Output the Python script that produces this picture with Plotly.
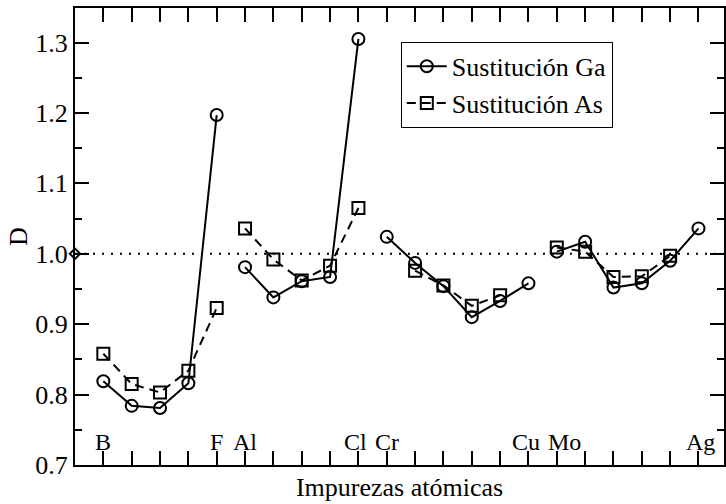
import plotly.graph_objects as go

# Impurity sites along the x axis (index positions) and their labels
element_pos = [1, 5, 6, 10, 11, 16, 17, 22]
element_names = ["B", "F", "Al", "Cl", "Cr", "Cu", "Mo", "Ag"]
# small horizontal nudges (px) so neighbouring labels don't collide
label_nudge = {"Cl": -3, "Cu": -2, "Mo": 8, "Ag": 2}

# Ga-site substitution
x_ga = [1, 2, 3, 4, 5, 6, 7, 8, 9, 10, 11, 12, 13, 14, 15, 16, 17, 18, 19, 20, 21, 22]
d_ga = [0.819, 0.784, 0.781, 0.816, 1.197,
        0.981, 0.938, 0.961, 0.967, 1.305,
        1.024, 0.987, 0.954, 0.910, 0.933, 0.958,
        1.003, 1.017, 0.952, 0.958, 0.990, 1.036]

# As-site substitution
x_as = [1, 2, 3, 4, 5, 6, 7, 8, 9, 10, 12, 13, 14, 15, 17, 18, 19, 20, 21]
d_as = [0.858, 0.815, 0.803, 0.834, 0.923,
        1.036, 0.992, 0.962, 0.983, 1.065,
        0.976, 0.955, 0.926, 0.941,
        1.009, 1.003, 0.967, 0.968, 0.997]

# Series are broken between element families
group_breaks = [5, 10, 16]

# Reference level D = 1
ref_x = [0, 23]
ref_d = [1.0, 1.0]


def with_gaps(xs, ys, breaks):
    gx, gy = [], []
    for i, (x, y) in enumerate(zip(xs, ys)):
        gx.append(x)
        gy.append(y)
        if i + 1 < len(xs):
            for b in breaks:
                if x <= b < xs[i + 1]:
                    gx.append(None)
                    gy.append(None)
                    break
    return gx, gy


FONT = "Liberation Serif, Times New Roman, serif"

fig = go.Figure()

fig.add_trace(go.Scatter(
    x=ref_x, y=ref_d, mode="lines+markers", showlegend=False,
    line=dict(color="black", width=2, dash="2px,7px"),
    marker=dict(symbol="diamond-open", size=8, color="black", line=dict(width=2)),
    cliponaxis=False,
))

gx, gy = with_gaps(x_ga, d_ga, group_breaks)
fig.add_trace(go.Scatter(
    x=gx, y=gy, mode="lines+markers", name="Sustitución Ga",
    line=dict(color="black", width=2),
    marker=dict(symbol="circle-open", size=12, color="black", line=dict(width=2)),
))

ax, ay = with_gaps(x_as, d_as, group_breaks)
fig.add_trace(go.Scatter(
    x=ax, y=ay, mode="lines+markers", name="Sustitución As",
    line=dict(color="black", width=2, dash="9px,6px"),
    marker=dict(symbol="square-open", size=12, color="black", line=dict(width=2)),
))

for pos, name in zip(element_pos, element_names):
    fig.add_annotation(
        x=pos, y=0.7, xref="x", yref="y", text=name, showarrow=False,
        yanchor="bottom", yshift=8, xshift=label_nudge.get(name, 0),
        font=dict(family=FONT, size=24, color="black"),
    )

fig.update_xaxes(
    range=[0, 22.9], tickmode="array", tickvals=list(range(1, 23)),
    showticklabels=False, ticks="inside", ticklen=14, tickwidth=2, tickcolor="black",
    showline=True, linewidth=2, linecolor="black", mirror="ticks",
    showgrid=False, zeroline=False,
    title=dict(text="Impurezas atómicas", font=dict(family=FONT, size=26, color="black"),
               standoff=12),
)
fig.update_yaxes(
    range=[0.7, 1.349], tick0=0.7, dtick=0.1, tickformat=".1f",
    ticks="inside", ticklen=14, tickwidth=2, tickcolor="black",
    minor=dict(dtick=0.05, ticks="inside", ticklen=7, tickwidth=2, tickcolor="black"),
    tickfont=dict(family=FONT, size=26, color="black"),
    showline=True, linewidth=2, linecolor="black", mirror="ticks",
    showgrid=False, zeroline=False,
    title=dict(text="D", font=dict(family=FONT, size=26, color="black"), standoff=0),
)

fig.update_layout(
    width=726, height=504,
    margin=dict(l=75, r=0, t=8, b=39),
    paper_bgcolor="white", plot_bgcolor="white",
    font=dict(family=FONT, color="black"),
    legend=dict(
        x=0.502, y=0.926, xanchor="left", yanchor="top",
        bgcolor="white", bordercolor="black", borderwidth=1,
        font=dict(family=FONT, size=26, color="black"),
        itemwidth=40, tracegroupgap=0,
    ),
)

fig.write_html("out.html")
